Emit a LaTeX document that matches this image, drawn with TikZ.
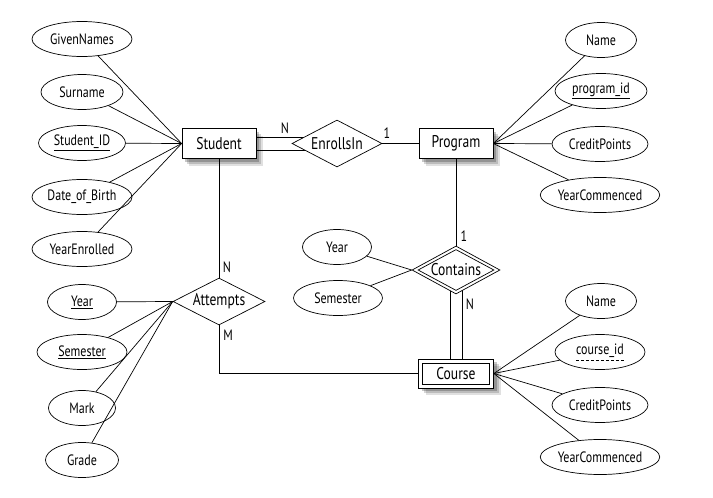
\documentclass[tikz,border=0pt]{standalone}
\usepackage{fontspec}
\setmainfont{PT Sans}[FakeStretch=0.8]
\usetikzlibrary{shapes.geometric,shadows,backgrounds}
\tikzset{
  base/.style={line width=0.7pt, draw=black},
  attr/.style={base, ellipse, fill=white, minimum width=#1, minimum height=35pt, inner sep=0pt,
    font=\fontsize{15pt}{17pt}\selectfont},
  shadowed/.style={drop shadow={shadow xshift=7pt, shadow yshift=-7pt, opacity=0.12, fill=black},
    drop shadow={shadow xshift=5pt, shadow yshift=-5pt, opacity=0.16, fill=black},
    drop shadow={shadow xshift=3pt, shadow yshift=-3pt, opacity=0.22, fill=black}},
  entity/.style={base, rectangle, fill=white, shadowed, minimum width=74pt, minimum height=30pt, inner sep=0pt,
    font=\fontsize{17pt}{19pt}\selectfont},
  rel/.style={base, diamond, fill=white, aspect=2, inner sep=0pt, minimum width=#1, minimum height=47pt,
    font=\fontsize{17pt}{19pt}\selectfont},
  lbl/.style={font=\fontsize{15pt}{17pt}\selectfont, inner sep=0pt},
  conn/.style={line width=0.7pt, draw=black}
}
\begin{document}
\begin{tikzpicture}[x=1pt,y=-1pt]
\useasboundingbox (0,0) rectangle (713,498);

% entities and relationships
\node[entity] (st) at (219,143.5) {Student};
\node[entity] (pr) at (456,143.5) {Program};
\node[rel=90pt] (en) at (337,143.5) {EnrollsIn};
\node[rel=88pt, minimum height=48pt] (co) at (456,270) {};
\node[base, diamond, aspect=2, inner sep=0pt, minimum width=76pt, minimum height=41pt] (coi) at (456,270) {};
\node[font=\fontsize{17pt}{19pt}\selectfont, inner sep=0pt] (cot) at (456,270) {Contains};
\node[rel=92pt] (at) at (219,301.5) {Attempts};
\node[entity, minimum width=75pt, minimum height=29pt] (cr) at (456,373.5) {};
\node[base, rectangle, minimum width=67pt, minimum height=21pt, inner sep=0pt,
  font=\fontsize{17pt}{19pt}\selectfont] (cri) at (456,373.5) {Course};

% attributes of Student
\node[attr=100pt] (gn) at (82,39) {GivenNames};
\node[attr=82pt] (sn) at (82,92) {Surname};
\node[attr=87pt] (sid) at (82,143) {\underline{Student\_ID}};
\node[attr=100pt] (dob) at (82,197) {Date\_of\_Birth};
\node[attr=100pt] (ye) at (82,249) {YearEnrolled};

% attributes of Program
\node[attr=71pt] (pn) at (601,40) {Name};
\node[attr=92pt] (pid) at (601,91) {\underline{program\_id}};
\node[attr=96pt] (pcp) at (600,144) {CreditPoints};
\node[attr=115pt] (pyc) at (600,195) {YearCommenced};

% attributes of Contains
\node[attr=69pt] (cy) at (337,247) {Year};
\node[attr=89pt] (cs) at (338,298) {Semester};

% attributes of Attempts
\node[attr=69pt] (ay) at (82,302) {\underline{Year}};
\node[attr=90pt] (as) at (82,352) {\underline{Semester}};
\node[attr=67pt] (am) at (82,408) {Mark};
\node[attr=73pt] (ag) at (82,460) {Grade};

% attributes of Course
\node[attr=71pt] (cn) at (601,301) {Name};
\node[attr=90pt] (cid) at (600,352) {};
\node[lbl] (cidt) at (600,351) {course\_id};
\draw[line width=0.7pt, dash pattern=on 3pt off 2pt] ([yshift=-2pt]cidt.south west) -- ([yshift=-2pt]cidt.south east);
\node[attr=96pt] (ccp) at (600,405) {CreditPoints};
\node[attr=115pt] (cyc) at (600,457) {YearCommenced};

% double connectors behind the shapes
\begin{scope}[on background layer]
  \draw[conn] ([yshift=6.5pt]st.center) -- ([yshift=6.5pt]en.center);
  \draw[conn] ([yshift=-6.5pt]st.center) -- ([yshift=-6.5pt]en.center);
  \draw[conn] ([xshift=-6pt]co.center) -- ([xshift=-6pt]cr.center);
  \draw[conn] ([xshift=6pt]co.center) -- ([xshift=6pt]cr.center);
\end{scope}

% single connectors
\draw[conn] (en) -- (pr);
\draw[conn] (pr) -- (co);
\draw[conn] (st) -- (at);
\draw[conn] (at.south) |- (cr.west);

\foreach \a in {gn,sn,sid,dob,ye} \draw[conn] (\a) -- (st.west);
\foreach \a in {pn,pid,pcp,pyc} \draw[conn] (\a) -- (pr.east);
\foreach \a in {cy,cs} \draw[conn] (\a) -- (co.west);
\foreach \a in {ay,as,am,ag} \draw[conn] (\a) -- (at.west);
\foreach \a in {cn,cid,ccp,cyc} \draw[conn] (\a) -- (cr.east);

% cardinality labels
\node[lbl] (l1) at (285,128) {N};
\node[lbl] (l2) at (387,133) {1};
\node[lbl] (l3) at (464,236) {1};
\node[lbl] (l4) at (470,304) {N};
\node[lbl] (l5) at (227,267) {N};
\node[lbl] (l6) at (228,335) {M};
\end{tikzpicture}
\end{document}
